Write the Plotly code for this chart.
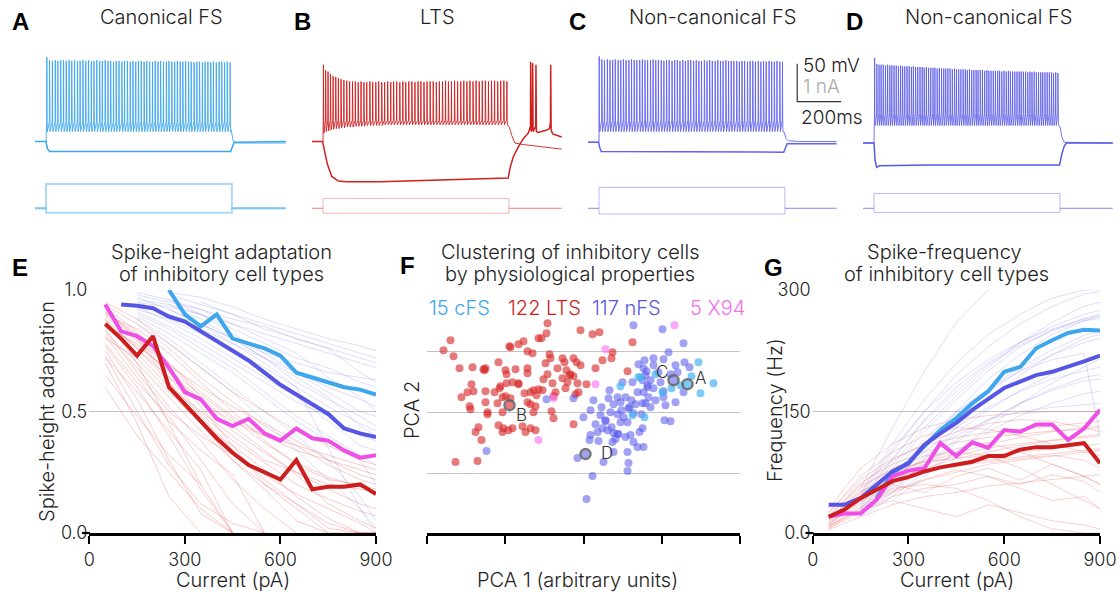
import plotly.graph_objects as go

W, H = 1119, 594
ML, MR, MT, MB = 30, 5, 40, 50          # margins keep edge texts inside the figure
def xp(px): return (px - ML) / (W - ML - MR)
def yp(py): return 1 - (py - MT) / (H - MT - MB)

FONT = "Inter"
TXT = "#222222"

# ================= DATA =================
# ---- top row: current-clamp recordings (time in ms, voltage in mV, current in nA)
step_on_ms = 50
step_off_ms = 895

a_rest_mv = -70
a_thresh_mv = -44
a_trough_mv = -57
a_spike_ms = [54, 66, 79, 92, 104, 117, 130, 142, 155, 167,
              180, 193, 205, 218, 231, 243, 256, 268, 281, 294,
              306, 319, 332, 344, 357, 369, 382, 395, 407, 420,
              433, 445, 458, 470, 483, 496, 508, 521, 534, 546,
              559, 571, 584, 597, 609, 622, 635, 647, 660, 672,
              685, 698, 710, 723, 736, 748, 761, 773, 786, 799,
              811, 824, 837, 849, 862, 874, 887]
a_peak_mv = [41, 37, 36, 37, 36, 37, 37, 36, 37, 36,
             37, 36, 36, 37, 36, 37, 36, 36, 37, 36,
             36, 37, 36, 36, 35, 36, 36, 35, 36, 36,
             35, 36, 35, 36, 36, 35, 36, 35, 35, 36,
             35, 36, 35, 35, 36, 35, 35, 36, 35, 35,
             36, 35, 35, 34, 35, 35, 34, 35, 35, 34,
             35, 34, 35, 35, 34, 35, 34]
a_after_ms = [892, 900, 910, 1140]
a_after_mv = [-55, -68, -72, -72]
a_hyper_ms = [0, 50, 56, 66, 890, 897, 905, 1140]
a_hyper_mv = [-70, -70, -79, -83, -83, -76, -71, -70]
a_step_na = [0.64, -0.12]

b_rest_mv = -70
b_thresh_mv = -42
b_spike_ms = [52, 62, 73, 84, 96, 108, 120, 132, 145, 158,
              171, 184, 197, 210, 223, 236, 249, 263, 276, 290,
              303, 317, 330, 344, 358, 371, 385, 399, 413, 426,
              440, 454, 468, 482, 495, 509, 523, 537, 551, 565,
              579, 593, 607, 620, 634, 648, 662, 676, 690, 704,
              718, 732, 746, 760, 774, 788, 802, 816, 830, 844,
              858, 872, 886]
b_peak_mv = [31, 24, 22, 19, 16, 15, 13, 12, 11, 10,
             9, 9, 9, 8, 9, 8, 8, 9, 8, 8,
             9, 8, 8, 9, 8, 9, 9, 8, 9, 8,
             9, 9, 8, 9, 9, 8, 9, 9, 9, 8,
             9, 9, 10, 9, 9, 10, 9, 9, 10, 9,
             10, 9, 10, 9, 10, 10, 9, 10, 10, 9,
             10, 10, 9]
b_trough_mv = [-59, -57, -56, -55, -54, -53, -53, -52, -52, -51,
               -51, -51, -50, -50, -50, -50, -49, -49, -49, -49,
               -49, -49, -48, -48, -48, -48, -48, -48, -48, -48,
               -48, -48, -48, -48, -48, -48, -48, -48, -48, -48,
               -48, -48, -48, -48, -48, -48, -48, -48, -48, -48,
               -48, -48, -48, -48, -48, -48, -48, -48, -48, -48,
               -48, -48, -48]
b_after_ms = [898, 908, 922, 960, 1050, 1135]
b_after_mv = [-52, -62, -72, -74, -77, -80]
b_hyper_ms = [0, 48, 70, 90, 120, 158, 309, 536, 764, 892, 900, 915, 938, 961, 983,
              993, 994, 996, 1002, 1003, 1005, 1017, 1018, 1020, 1027, 1067, 1079,
              1084, 1085, 1087, 1094, 1112, 1135]
b_hyper_mv = [-70, -70, -100, -116, -122, -123, -123, -121, -119, -118, -105, -90, -77, -66, -59,
              -50, 35, -57, -50, 33, -57, -50, 31, -57, -58, -55, -53,
              -45, 31, -55, -60, -62, -64]
b_step_na = [0.26, -0.13]

c_rest_mv = -71
c_thresh_mv = -42
c_trough_mv = -57
c_spike_ms = [51, 63, 75, 88, 100, 112, 124, 137, 149, 161,
              173, 186, 198, 210, 222, 235, 247, 259, 271, 284,
              296, 308, 320, 333, 345, 357, 369, 382, 394, 406,
              418, 431, 443, 455, 467, 480, 492, 504, 516, 529,
              541, 553, 565, 578, 590, 602, 614, 627, 639, 651,
              663, 676, 688, 700, 712, 725, 737, 749, 761, 774,
              786, 798, 810, 823, 835, 847, 859, 872, 884]
c_peak_mv = [42, 38, 37, 38, 37, 37, 38, 37, 37, 38,
             37, 37, 38, 37, 37, 37, 38, 37, 37, 37,
             38, 37, 37, 37, 36, 37, 37, 36, 37, 37,
             36, 37, 36, 37, 37, 36, 37, 36, 36, 37,
             36, 37, 36, 36, 37, 36, 36, 37, 36, 36,
             36, 36, 35, 36, 36, 35, 36, 36, 35, 36,
             35, 36, 35, 36, 35, 35, 36, 35, 35]
c_after_ms = [892, 900, 910, 960, 1130]
c_after_mv = [-58, -66, -69, -70, -70]
c_hyper_ms = [0, 48, 53, 60, 890, 897, 905, 1130]
c_hyper_mv = [-71, -71, -78, -83, -84, -78, -73, -73]
c_step_na = [0.55, -0.15]

d_rest_mv = -72
d_thresh_mv = -33
d_trough_mv = -49
d_spike_ms = [53, 63, 73, 82, 92, 102, 112, 122, 131, 141,
              151, 161, 171, 180, 190, 200, 210, 220, 229, 239,
              249, 259, 269, 278, 288, 298, 308, 318, 327, 337,
              347, 357, 367, 376, 386, 396, 406, 416, 425, 435,
              445, 455, 465, 474, 484, 494, 504, 514, 523, 533,
              543, 553, 563, 572, 582, 592, 602, 612, 621, 631,
              641, 651, 661, 670, 680, 690, 700, 710, 719, 729,
              739, 749, 759, 768, 778, 788, 798, 808, 817, 827,
              837, 847, 857, 866, 876, 886]
d_peak_mv = [40, 32, 31, 31, 31, 30, 31, 30, 30, 30,
             30, 29, 30, 29, 29, 29, 29, 28, 29, 28,
             28, 28, 28, 27, 28, 27, 27, 27, 27, 26,
             27, 26, 26, 26, 26, 26, 25, 26, 25, 25,
             25, 25, 25, 24, 25, 24, 24, 24, 24, 24,
             24, 23, 24, 23, 23, 23, 23, 23, 23, 22,
             23, 22, 23, 22, 22, 22, 22, 22, 22, 22,
             22, 21, 22, 21, 22, 21, 21, 21, 21, 21,
             21, 21, 21, 20, 21, 20]
d_after_ms = [895, 905, 915, 1135]
d_after_mv = [-50, -65, -71, -72]
d_hyper_ms = [0, 50, 55, 62, 75, 300, 600, 893, 898, 905, 915, 925, 1135]
d_hyper_mv = [-72, -72, -95, -104, -102, -101, -101, -101, -95, -85, -76, -72, -72]
d_step_na = [0.39, -0.11]

scalebar_ms = 200
scalebar_mv = 50

# ---- panel E: spike-height adaptation vs current
cell_current_pa = [50, 150, 250, 350, 450, 550, 650, 750, 850, 900]
e_lts_cells = [
    [0.92, 0.80, 0.62, 0.45, 0.30, 0.18, 0.05, 0.00, 0.00, 0.00],
    [0.88, 0.70, 0.45, 0.20, 0.00, None, None, None, None, None],
    [0.85, 0.78, 0.66, 0.55, 0.42, 0.33, 0.25, 0.20, 0.18, 0.17],
    [0.75, 0.55, 0.30, 0.08, 0.00, None, None, None, None, None],
    [0.90, 0.84, 0.74, 0.62, 0.50, 0.38, 0.28, 0.22, 0.20, 0.18],
    [0.70, 0.45, 0.15, 0.00, None, None, None, None, None, None],
    [0.95, 0.88, 0.78, 0.68, 0.58, 0.50, 0.42, 0.36, 0.30, 0.28],
    [0.82, 0.68, 0.52, 0.38, 0.22, 0.10, 0.00, None, None, None],
    [0.86, 0.74, 0.60, 0.50, 0.40, 0.30, 0.25, 0.18, 0.12, 0.10],
    [0.78, 0.62, 0.48, 0.30, 0.12, 0.00, None, None, None, None],
    [0.90, 0.80, 0.70, 0.58, 0.48, 0.40, 0.34, 0.30, 0.26, 0.24],
    [0.65, 0.48, 0.32, 0.20, None, None, None, None, None, None],
    [0.93, 0.83, 0.70, 0.56, 0.44, 0.34, 0.24, 0.12, 0.05, 0.02],
    [0.80, 0.72, 0.58, 0.45, 0.36, 0.26, 0.15, 0.06, 0.00, 0.00],
    [0.87, 0.76, 0.64, 0.54, 0.46, 0.40, 0.36, 0.32, 0.28, 0.26],
    [0.72, 0.58, 0.42, 0.26, 0.00, None, None, None, None, None],
    [0.84, 0.66, 0.50, 0.40, 0.32, 0.24, 0.16, 0.10, 0.04, 0.00],
    [0.91, 0.82, 0.68, 0.52, 0.36, 0.20, 0.10, 0.00, None, None],
    [0.60, 0.40, 0.25, 0.10, 0.00, None, None, None, None, None],
    [0.89, 0.79, 0.69, 0.60, 0.52, 0.45, 0.38, 0.30, 0.24, 0.22],
    [0.83, 0.70, 0.56, 0.42, 0.30, 0.20, 0.12, 0.04, 0.00, 0.00],
    [0.94, 0.86, 0.76, 0.64, 0.54, 0.44, 0.36, 0.28, 0.22, 0.20],
    [0.77, 0.60, 0.40, 0.18, 0.00, None, None, None, None, None],
    [0.88, 0.76, 0.62, 0.48, 0.34, 0.22, 0.12, 0.02, 0.00, 0.00],
    [0.81, 0.64, 0.46, 0.34, 0.24, 0.00, None, None, None, None],
    [0.86, 0.77, 0.67, 0.57, 0.47, 0.37, 0.29, 0.23, 0.19, 0.17],
    [0.73, 0.50, 0.28, 0.12, 0.04, 0.00, None, None, None, None],
    [0.91, 0.81, 0.64, 0.49, 0.38, 0.29, 0.20, 0.14, 0.09, 0.07],
]
e_nfs_cells = [
    [None, 0.95, 0.93, 0.90, 0.86, 0.82, 0.78, 0.74, 0.70, 0.68],
    [None, 0.92, 0.88, 0.82, 0.75, 0.68, 0.60, 0.52, 0.45, 0.42],
    [None, 0.98, 0.95, 0.92, 0.88, 0.85, 0.80, 0.76, 0.72, 0.70],
    [None, 0.90, 0.84, 0.76, 0.68, 0.58, 0.48, 0.40, 0.32, 0.28],
    [None, None, 0.96, 0.90, 0.82, 0.74, 0.66, 0.58, 0.50, 0.48],
    [None, 0.94, 0.90, 0.84, 0.78, 0.72, 0.66, 0.60, 0.55, 0.52],
    [None, 0.88, 0.80, 0.70, 0.60, 0.50, 0.40, 0.30, 0.15, 0.05],
    [None, None, 0.98, 0.94, 0.90, 0.86, 0.82, 0.78, 0.74, 0.72],
    [None, 0.93, 0.87, 0.80, 0.72, 0.64, 0.56, 0.46, 0.36, 0.34],
    [None, 0.97, 0.92, 0.86, 0.80, 0.72, 0.62, 0.55, 0.48, 0.44],
    [None, None, 0.92, 0.86, 0.78, 0.70, 0.60, 0.35, 0.10, 0.00],
    [None, 0.96, 0.94, 0.90, 0.84, 0.78, 0.72, 0.68, 0.62, 0.60],
    [None, 0.91, 0.85, 0.78, 0.70, 0.62, 0.54, 0.48, 0.40, 0.38],
    [None, None, None, 0.95, 0.90, 0.84, 0.80, 0.76, 0.66, 0.62],
    [None, 0.99, 0.96, 0.92, 0.86, 0.80, 0.74, 0.64, 0.56, 0.50],
    [None, 0.89, 0.82, 0.74, 0.66, 0.56, 0.46, 0.38, 0.30, 0.20],
    [None, None, 0.99, 0.97, 0.93, 0.88, 0.84, 0.80, 0.77, 0.75],
    [None, 0.86, 0.78, 0.68, 0.58, 0.46, 0.34, 0.22, 0.10, 0.02],
    [None, 0.95, 0.90, 0.86, 0.80, 0.74, 0.70, 0.66, 0.64, 0.63],
    [None, None, 0.94, 0.88, 0.80, 0.72, 0.64, 0.56, 0.44, 0.40],
]
e_cfs_x = [250, 300, 350, 400, 450, 500, 550, 600, 650, 700, 750, 800, 850, 900]
e_cfs_y = [1.00, 0.90, 0.85, 0.90, 0.80, 0.78, 0.76, 0.73, 0.66, 0.64, 0.62, 0.60, 0.59, 0.57]
e_nfs_x = [100, 150, 200, 250, 300, 350, 400, 450, 500, 550, 600, 650, 700, 750, 800, 850, 900]
e_nfs_y = [0.94, 0.935, 0.925, 0.89, 0.87, 0.83, 0.79, 0.75, 0.71, 0.66, 0.61, 0.57, 0.53, 0.49, 0.43, 0.41, 0.395]
e_x94_x = [50, 100, 150, 200, 250, 300, 350, 400, 450, 500, 550, 600, 650, 700, 750, 800, 850, 900]
e_x94_y = [0.94, 0.83, 0.81, 0.77, 0.68, 0.58, 0.55, 0.47, 0.44, 0.47, 0.41, 0.38, 0.43, 0.39, 0.38, 0.34, 0.31, 0.32]
e_lts_x = [50, 100, 150, 200, 250, 300, 350, 400, 450, 500, 550, 600, 650, 700, 750, 800, 850, 900]
e_lts_y = [0.86, 0.80, 0.73, 0.81, 0.60, 0.53, 0.46, 0.39, 0.33, 0.28, 0.25, 0.22, 0.30, 0.18, 0.19, 0.19, 0.20, 0.16]

# ---- panel G: spike frequency vs current
g_lts_cells = [
    [10, 45, 70, 85, 95, 105, 110, 115, 120, 122],
    [20, 60, 90, 110, 125, 135, 140, 138, 130, 125],
    [5, 30, 50, 65, 75, 85, 90, 95, 100, 102],
    [15, 55, 80, 95, 100, 95, 80, 60, 40, 30],
    [25, 70, 100, 120, 130, 128, 120, 110, 100, 95],
    [8, 35, 55, 60, 55, 40, 20, 5, 0, 0],
    [12, 40, 65, 80, 92, 100, 108, 114, 118, 120],
    [30, 80, 110, 130, 140, 145, 148, 150, 150, 150],
    [6, 25, 45, 55, 60, 70, 55, 40, 45, 30],
    [18, 50, 75, 88, 98, 110, 118, 125, 130, 132],
    [10, 38, 60, 50, 70, 80, 65, 85, 70, 60],
    [22, 62, 85, 100, 112, 118, 122, 126, 128, 130],
    [4, 20, 35, 45, 50, 58, 62, 66, 70, 72],
    [14, 48, 72, 90, 104, 112, 100, 85, 70, 60],
    [16, 52, 68, 78, 85, 90, 94, 98, 102, 104],
    [9, 28, 40, 30, 20, 35, 25, 15, 10, 5],
    [12, 44, 66, 76, 82, 88, 92, 96, 90, 80],
    [20, 58, 78, 88, 92, 96, 100, 104, 108, 110],
    [7, 32, 52, 66, 78, 70, 60, 72, 64, 50],
    [26, 66, 92, 108, 118, 124, 128, 132, 136, 138],
]
g_nfs_cells = [
    [None, 40, 90, 140, 180, 210, 235, 255, 270, 275],
    [None, 30, 70, 110, 145, 175, 200, 220, 235, 240],
    [None, 50, 110, 165, 210, 245, 270, 290, 300, 300],
    [None, 25, 55, 85, 115, 140, 160, 178, 192, 196],
    [None, 35, 80, 125, 165, 200, 230, 250, 265, 270],
    [None, None, 60, 105, 150, 190, 220, 245, 262, 268],
    [None, 20, 45, 75, 100, 125, 145, 160, 172, 175],
    [None, 45, 100, 150, 195, 230, 258, 280, 295, 298],
    [None, 30, 65, 100, 130, 155, 175, 190, 200, 205],
    [None, None, 50, 90, 130, 165, 195, 220, 240, 245],
    [None, 38, 85, 130, 170, 205, 235, 260, 280, 285],
    [None, 28, 60, 95, 120, 140, 150, 155, 158, 160],
    [None, 55, 130, 200, 260, 300, 310, 310, 310, 310],
    [None, 32, 72, 112, 148, 178, 204, 226, 244, 250],
    [None, None, 40, 70, 100, 130, 160, 185, 205, 215],
    [None, 42, 92, 138, 175, 208, 232, 250, 262, 265],
    [None, 26, 58, 92, 124, 152, 176, 196, 212, 220],
    [None, 36, 76, 116, 150, 178, 200, 214, 222, 120],
    [None, 48, 104, 150, 186, 214, 236, 252, 264, 268],
    [None, 22, 50, 82, 112, 138, 160, 176, 188, 190],
]
g_cfs_x = [200, 250, 300, 350, 400, 450, 500, 550, 600, 650, 700, 750, 800, 850, 900]
g_cfs_y = [43, 74, 87, 107, 127, 142, 160, 175, 199, 205, 228, 238, 247, 251, 250]
g_nfs_x = [50, 100, 150, 200, 250, 300, 350, 400, 450, 500, 550, 600, 650, 700, 750, 800, 850, 900]
g_nfs_y = [35, 35, 43, 60, 76, 86, 109, 123, 136, 152, 165, 179, 187, 195, 199, 205, 212, 219]
g_x94_x = [50, 100, 150, 200, 250, 300, 350, 400, 450, 500, 550, 600, 650, 700, 750, 800, 850, 900]
g_x94_y = [20, 24, 24, 41, 70, 77, 80, 111, 95, 112, 105, 127, 125, 134, 134, 115, 129, 152]
g_lts_x = [50, 100, 150, 200, 250, 300, 350, 400, 450, 500, 550, 600, 650, 700, 750, 800, 850, 900]
g_lts_y = [20, 29, 43, 54, 64, 69, 76, 81, 84, 88, 95, 95, 103, 106, 106, 108, 111, 86]

# ---- panel F: PCA of physiological properties (arbitrary units)
f_lts_pts = [
    (-133, 72), (-140, 62), (-130, 56), (-124, 44), (-111, 45), (-100, 43), (-98, 44), (-85, 50), (-74, 66), (-65, 68),
    (-60, 71), (-56, 61), (-51, 59), (-45, 74), (-78, 42), (-77, 38), (-68, 43), (-56, 44), (-56, 39), (-112, 28),
    (-116, 20), (-122, 15), (-110, 21), (-98, 21), (-89, 20), (-83, 26), (-77, 29), (-71, 30), (-65, 29), (-81, 15),
    (-73, 14), (-59, 19), (-53, 20), (-45, 23), (-47, 17), (-98, 10), (-114, 6), (-113, 3), (-86, 9), (-81, 0),
    (-96, -2), (-56, 10), (-53, 8), (-50, 0), (-85, -13), (-80, -16), (-81, -20), (-71, -16), (-61, -14), (-58, -20),
    (-53, -16), (-105, -15), (-108, -20), (-102, -28), (-128, -50), (-106, -49), (-78, 16), (-50, 22), (-96, 0), (-75, -18),
    (-48, -18), (-48, 6), (-36, 89), (-42, 74), (-37, 79), (-3, 82), (9, 78), (16, 80), (49, 70), (29, 60),
    (28, 54), (19, 52), (-34, 58), (-33, 54), (-38, 49), (-21, 54), (-19, 50), (-10, 54), (-7, 50), (-3, 47),
    (-26, 44), (-17, 42), (-13, 38), (-10, 36), (-21, 34), (-40, 33), (-31, 29), (-16, 30), (-6, 29), (3, 28),
    (12, 44), (44, 41), (-41, 22), (-28, 20), (-18, 24), (-8, 18), (-5, 20), (-30, 16), (-32, 1), (-30, -6),
    (-10, -12), (-73, 65), (-99, 42), (-65, 28), (-36, 38), (-14, 37), (-84, 24), (-74, 7),
]
f_nfs_pts = [
    (50, 87), (-37, 13), (-10, 14), (39, 30), (49, 30), (54, 20), (25, 14), (34, 15), (42, 15), (45, 4),
    (30, 8), (37, 10), (10, 12), (7, 2), (0, -5), (17, -3), (27, 0), (22, -9), (34, -2), (37, -10),
    (44, -10), (50, -1), (14, -20), (19, -16), (24, -18), (7, -23), (6, -28), (15, -29), (30, -21), (35, -22),
    (42, -25), (47, -23), (29, -30), (32, -27), (50, -30), (54, -35), (-6, -46), (20, -50), (45, -51), (44, -59),
    (9, -64), (3, -87), (22, -8), (46, 5), (34, -22), (-97, -39), (2, -42),
    (79, 83), (100, 69), (85, 60), (70, 54), (80, 53), (61, 52), (92, 47), (101, 50), (106, 45), (70, 47),
    (60, 44), (63, 41), (94, 40), (87, 38), (59, 32), (67, 32), (77, 30), (90, 32), (100, 20), (92, 10),
    (80, 15), (82, 7), (80, 21), (64, 27), (70, 24), (60, 20), (65, 15), (67, 5), (59, 9), (81, -8),
    (87, -9), (59, -16), (60, -35), (62, 37), (64, 25), (62, 9),
    (40, -5), (52, 8), (28, -15), (12, -12), (56, -20), (38, 2), (48, 12), (26, 22), (18, 5), (58, -2),
    (44, -40), (30, -40), (72, 12), (75, 40), (55, 48),
]
f_cfs_pts = [(115, 50), (130, 29), (117, 19), (61, -5), (79, 20), (97, 27), (57, 35), (37, 26),
             (55, 35), (49, -3), (104, 28), (72, 38), (88, 24), (108, 36)]
f_x94_pts = [(-45, -28), (22, 63), (12, 28), (-30, 14), (91, 87)]
f_example_names = ["A", "B", "C", "D"]
f_example_x = [104, -74, 90, 2]
f_example_y = [28, 7, 32, -42]
f_group_labels = ["15 cFS", "122 LTS", "117 nFS", "5 X94"]

# ================= STYLE =================
COL_CFS = "#3EA6EC"
COL_LTS = "#CC1E1E"
COL_NFS = "#5656E4"
COL_X94 = "#EE4FE6"

fig = go.Figure()
ann = []
shapes = []

def font(size, color=TXT, weight=300, family=FONT):
    return dict(family=family, size=size, color=color, weight=weight)

def add_text(text, px, py, size=20, color=TXT, xanchor="center", yanchor="middle",
             angle=0, weight=300, family=FONT):
    ann.append(dict(text=text, x=xp(px), y=yp(py), xref="paper", yref="paper",
                    xanchor=xanchor, yanchor=yanchor, showarrow=False, textangle=angle,
                    font=font(size, color, weight, family)))

def axn(kind, i):
    return kind if i == 1 else f"{kind}{i}"

# ---------- top row ----------
def depol_sweep(rest, spike_ms, peaks, trough, thresh, after_ms, after_mv):
    t = [0, step_on_ms]
    v = [rest, rest]
    for k, (ts, pk) in enumerate(zip(spike_ms, peaks)):
        tr = trough[k] if isinstance(trough, list) else trough
        t += [ts - 1, ts, ts + 1, ts + 2.5]
        v += [thresh, pk, thresh, tr]
    return t + after_ms, v + after_mv

def current_sweep(amp, end_ms):
    return ([0, step_on_ms, step_on_ms, step_off_ms, step_off_ms, end_ms],
            [0, 0, amp, amp, 0, 0])

PX_PER_MS = 0.22
panels = [
    dict(o=35, span=1160, rest=a_rest_mv, sp=a_spike_ms, pk=a_peak_mv, tr=a_trough_mv, th=a_thresh_mv,
         am=a_after_ms, av=a_after_mv, hm=a_hyper_ms, hv=a_hyper_mv, st=a_step_na,
         col="#3DA7EE", ccol="rgba(70,170,240,0.45)", cw=2.0, vw=0.9),
    dict(o=312, span=1160, rest=b_rest_mv, sp=b_spike_ms, pk=b_peak_mv, tr=b_trough_mv, th=b_thresh_mv,
         am=b_after_ms, av=b_after_mv, hm=b_hyper_ms, hv=b_hyper_mv, st=b_step_na,
         col="#CF1F1F", ccol="rgba(225,70,70,0.4)", cw=1.0, vw=0.9),
    dict(o=588, span=1160, rest=c_rest_mv, sp=c_spike_ms, pk=c_peak_mv, tr=c_trough_mv, th=c_thresh_mv,
         am=c_after_ms, av=c_after_mv, hm=c_hyper_ms, hv=c_hyper_mv, st=c_step_na,
         col="#6363F0", ccol="rgba(100,100,240,0.45)", cw=1.0, vw=0.9),
    dict(o=863, span=1137, rest=d_rest_mv, sp=d_spike_ms, pk=d_peak_mv, tr=d_trough_mv, th=d_thresh_mv,
         am=d_after_ms, av=d_after_mv, hm=d_hyper_ms, hv=d_hyper_mv, st=d_step_na,
         col="#5858E6", ccol="rgba(100,100,240,0.45)", cw=1.0, vw=0.8),
]
layout_axes = {}
for i, p in enumerate(panels, start=1):
    xa, ya, ca = axn("x", i), axn("y", i), axn("y", i + 4)
    layout_axes[axn("xaxis", i)] = dict(domain=[xp(p["o"]), xp(p["o"] + p["span"] * PX_PER_MS)],
                                        range=[0, p["span"]], visible=False, anchor=ya, fixedrange=True)
    layout_axes[axn("yaxis", i)] = dict(domain=[yp(195), yp(50)], range=[-140.4, 50.4],
                                        visible=False, anchor=xa, fixedrange=True)
    layout_axes[axn("yaxis", i + 4)] = dict(domain=[yp(222), yp(175)], range=[-0.3605, 0.876],
                                            visible=False, anchor=xa, fixedrange=True)
    end_ms = p["am"][-1]
    for amp in p["st"]:
        ct, cv = current_sweep(amp, end_ms)
        fig.add_trace(go.Scatter(x=ct, y=cv, xaxis=xa, yaxis=ca, mode="lines",
                                 line=dict(color=p["ccol"], width=p["cw"]), hoverinfo="skip"))
    fig.add_trace(go.Scatter(x=p["hm"], y=p["hv"], xaxis=xa, yaxis=ya, mode="lines",
                             line=dict(color=p["col"], width=1.5), hoverinfo="skip"))
    dt, dv = depol_sweep(p["rest"], p["sp"], p["pk"], p["tr"], p["th"], p["am"], p["av"])
    fig.add_trace(go.Scatter(x=dt, y=dv, xaxis=xa, yaxis=ya, mode="lines",
                             line=dict(color=p["col"], width=p["vw"]), hoverinfo="skip"))

# scale bar drawn in panel C data coordinates
sb_t0, sb_v0 = 951, -17.6
fig.add_trace(go.Scatter(x=[sb_t0, sb_t0, sb_t0 + scalebar_ms], y=[sb_v0 + scalebar_mv, sb_v0, sb_v0],
                         xaxis="x3", yaxis="y3", mode="lines",
                         line=dict(color="#333333", width=1.2), hoverinfo="skip"))
add_text("50 mV", 801, 65, size=19, xanchor="left")
add_text("1 nA", 801, 86, size=19, color="#AAAAAA", xanchor="left")
add_text("200ms", 799, 117, size=19, xanchor="left")

# top titles and letters
for letter, lx, title, tx in [("A", 20.5, "Canonical FS", 161), ("B", 302, "LTS", 437),
                              ("C", 577, "Non-canonical FS", 712), ("D", 854, "Non-canonical FS", 988)]:
    add_text(letter, lx, 22, size=24, color="#000000", weight=700, family="Liberation Sans")
    add_text(title, tx, 17.5, size=20)

# ---------- bottom row ----------
def thin_lines(cells, xs):
    X, Y = [], []
    for c in cells:
        X += xs + [None]
        Y += c + [None]
    return X, Y

def thick(x, y, col, xa, ya):
    fig.add_trace(go.Scatter(x=x, y=y, xaxis=xa, yaxis=ya, mode="lines",
                             line=dict(color=col, width=4), hoverinfo="skip"))

# Panel E
X, Y = thin_lines(e_lts_cells, cell_current_pa)
fig.add_trace(go.Scatter(x=X, y=Y, xaxis="x5", yaxis="y9", mode="lines",
                         line=dict(color="rgba(230,70,70,0.28)", width=1), hoverinfo="skip"))
X, Y = thin_lines(e_nfs_cells, cell_current_pa)
fig.add_trace(go.Scatter(x=X, y=Y, xaxis="x5", yaxis="y9", mode="lines",
                         line=dict(color="rgba(90,90,230,0.2)", width=1), hoverinfo="skip"))
thick(e_cfs_x, e_cfs_y, COL_CFS, "x5", "y9")
thick(e_nfs_x, e_nfs_y, COL_NFS, "x5", "y9")
thick(e_x94_x, e_x94_y, COL_X94, "x5", "y9")
thick(e_lts_x, e_lts_y, COL_LTS, "x5", "y9")

# Panel G
X, Y = thin_lines(g_nfs_cells, cell_current_pa)
fig.add_trace(go.Scatter(x=X, y=Y, xaxis="x7", yaxis="y11", mode="lines",
                         line=dict(color="rgba(90,90,230,0.2)", width=1), hoverinfo="skip"))
X, Y = thin_lines(g_lts_cells, cell_current_pa)
fig.add_trace(go.Scatter(x=X, y=Y, xaxis="x7", yaxis="y11", mode="lines",
                         line=dict(color="rgba(230,70,70,0.25)", width=1), hoverinfo="skip"))
thick(g_cfs_x, g_cfs_y, COL_CFS, "x7", "y11")
thick(g_nfs_x, g_nfs_y, COL_NFS, "x7", "y11")
thick(g_x94_x, g_x94_y, COL_X94, "x7", "y11")
thick(g_lts_x, g_lts_y, COL_LTS, "x7", "y11")

# Panel F scatter
for pts, col in [(f_lts_pts, "rgba(215,40,40,0.62)"), (f_nfs_pts, "rgba(85,85,235,0.55)"),
                 (f_cfs_pts, "rgba(70,180,240,0.7)"), (f_x94_pts, "rgba(250,120,245,0.65)")]:
    fig.add_trace(go.Scatter(x=[p[0] for p in pts], y=[p[1] for p in pts], xaxis="x6", yaxis="y10",
                             mode="markers", marker=dict(color=col, size=8, line=dict(width=0)),
                             hoverinfo="skip"))
fig.add_trace(go.Scatter(x=f_example_x, y=f_example_y, xaxis="x6", yaxis="y10", mode="markers",
                         marker=dict(symbol="circle-open", size=10, color="rgba(95,95,95,0.85)",
                                     line=dict(width=2.5)), hoverinfo="skip"))
label_offsets = {"A": (13, 6), "B": (12, -10), "C": (-12, 8), "D": (21, 1)}
for name, x, y in zip(f_example_names, f_example_x, f_example_y):
    dx, dy = label_offsets[name]
    ann.append(dict(text=name, x=x + dx, y=y + dy, xref="x6", yref="y10", showarrow=False,
                    xanchor="center", yanchor="middle", font=font(17, "#333333")))

# bottom axes
tickfont = font(18)
common_x = dict(ticks="outside", ticklen=8, tickwidth=2.2, tickcolor="#000000", showline=True,
                linewidth=3, linecolor="#000000", showgrid=False, zeroline=False,
                tickfont=tickfont, fixedrange=True, ticklabelstandoff=0)
common_y = dict(showgrid=True, gridcolor="#C4C4C4", gridwidth=1.2, zeroline=False, showline=False,
                ticks="", tickfont=tickfont, fixedrange=True, ticklabelstandoff=1)
layout_axes["xaxis5"] = dict(common_x, domain=[xp(89.3), xp(376)], range=[0, 900],
                             tickvals=[0, 300, 600, 900], anchor="y9")
layout_axes["yaxis9"] = dict(common_y, domain=[yp(533), yp(290)], range=[0, 1],
                             tickvals=[0, 0.5, 1], ticktext=["0.0", "0.5", "1.0"], anchor="x5")
layout_axes["xaxis6"] = dict(common_x, domain=[xp(427), xp(740)], range=[-156.5, 156.5],
                             tickvals=[-156.5, -78.25, 0, 78.25, 156.5], showticklabels=False,
                             anchor="y10")
layout_axes["yaxis10"] = dict(common_y, domain=[yp(533), yp(290)], range=[-121, 122.3],
                              tickvals=[-61, 0, 61, 122], showticklabels=False, anchor="x6")
layout_axes["xaxis7"] = dict(common_x, domain=[xp(812.7), xp(1100)], range=[0, 900],
                             tickvals=[0, 300, 600, 900], anchor="y11")
layout_axes["yaxis11"] = dict(common_y, domain=[yp(533), yp(290)], range=[0, 300],
                              tickvals=[0, 150, 300], ticktext=["0.0", "150", "300"], anchor="x7")

# small y ticks at zero
for x0 in (82, 805.5):
    shapes.append(dict(type="line", xref="paper", yref="paper", x0=xp(x0), x1=xp(x0 + 8),
                       y0=yp(533), y1=yp(533), line=dict(color="#000000", width=2.2)))

# bottom titles, letters, axis titles
add_text("E", 19.5, 267, size=24, color="#000000", weight=700, family="Liberation Sans")
add_text("F", 407.5, 265, size=24, color="#000000", weight=700, family="Liberation Sans")
add_text("G", 773.5, 267, size=24, color="#000000", weight=700, family="Liberation Sans")
add_text("Spike-height adaptation", 221.5, 251.5)
add_text("of inhibitory cell types", 221.5, 274)
add_text("Clustering of inhibitory cells", 570, 251.5)
add_text("by physiological properties", 570, 274)
add_text("Spike-frequency", 944, 251.5)
add_text("of inhibitory cell types", 946, 274)
add_text("Spike-height adaptation", 46.5, 411.5, angle=-90)
add_text("Current (pA)", 232.5, 580)
add_text("PCA 2", 412, 410, angle=-90)
add_text("PCA 1 (arbitrary units)", 577, 580)
add_text("Frequency (Hz)", 775, 410, angle=-90)
add_text("Current (pA)", 956.5, 580)

for lab, x0, col in zip(f_group_labels, [427, 506, 590, 688], [COL_CFS, COL_LTS, COL_NFS, "#F070EE"]):
    add_text(lab, x0, 308, size=20, color=col, xanchor="left")

fig.update_layout(width=W, height=H, autosize=False,
                  margin=dict(l=ML, r=MR, t=MT, b=MB, pad=0, autoexpand=False),
                  paper_bgcolor="white", plot_bgcolor="rgba(0,0,0,0)", showlegend=False,
                  annotations=ann, shapes=shapes, font=font(18), **layout_axes)
fig.write_html("out.html")
